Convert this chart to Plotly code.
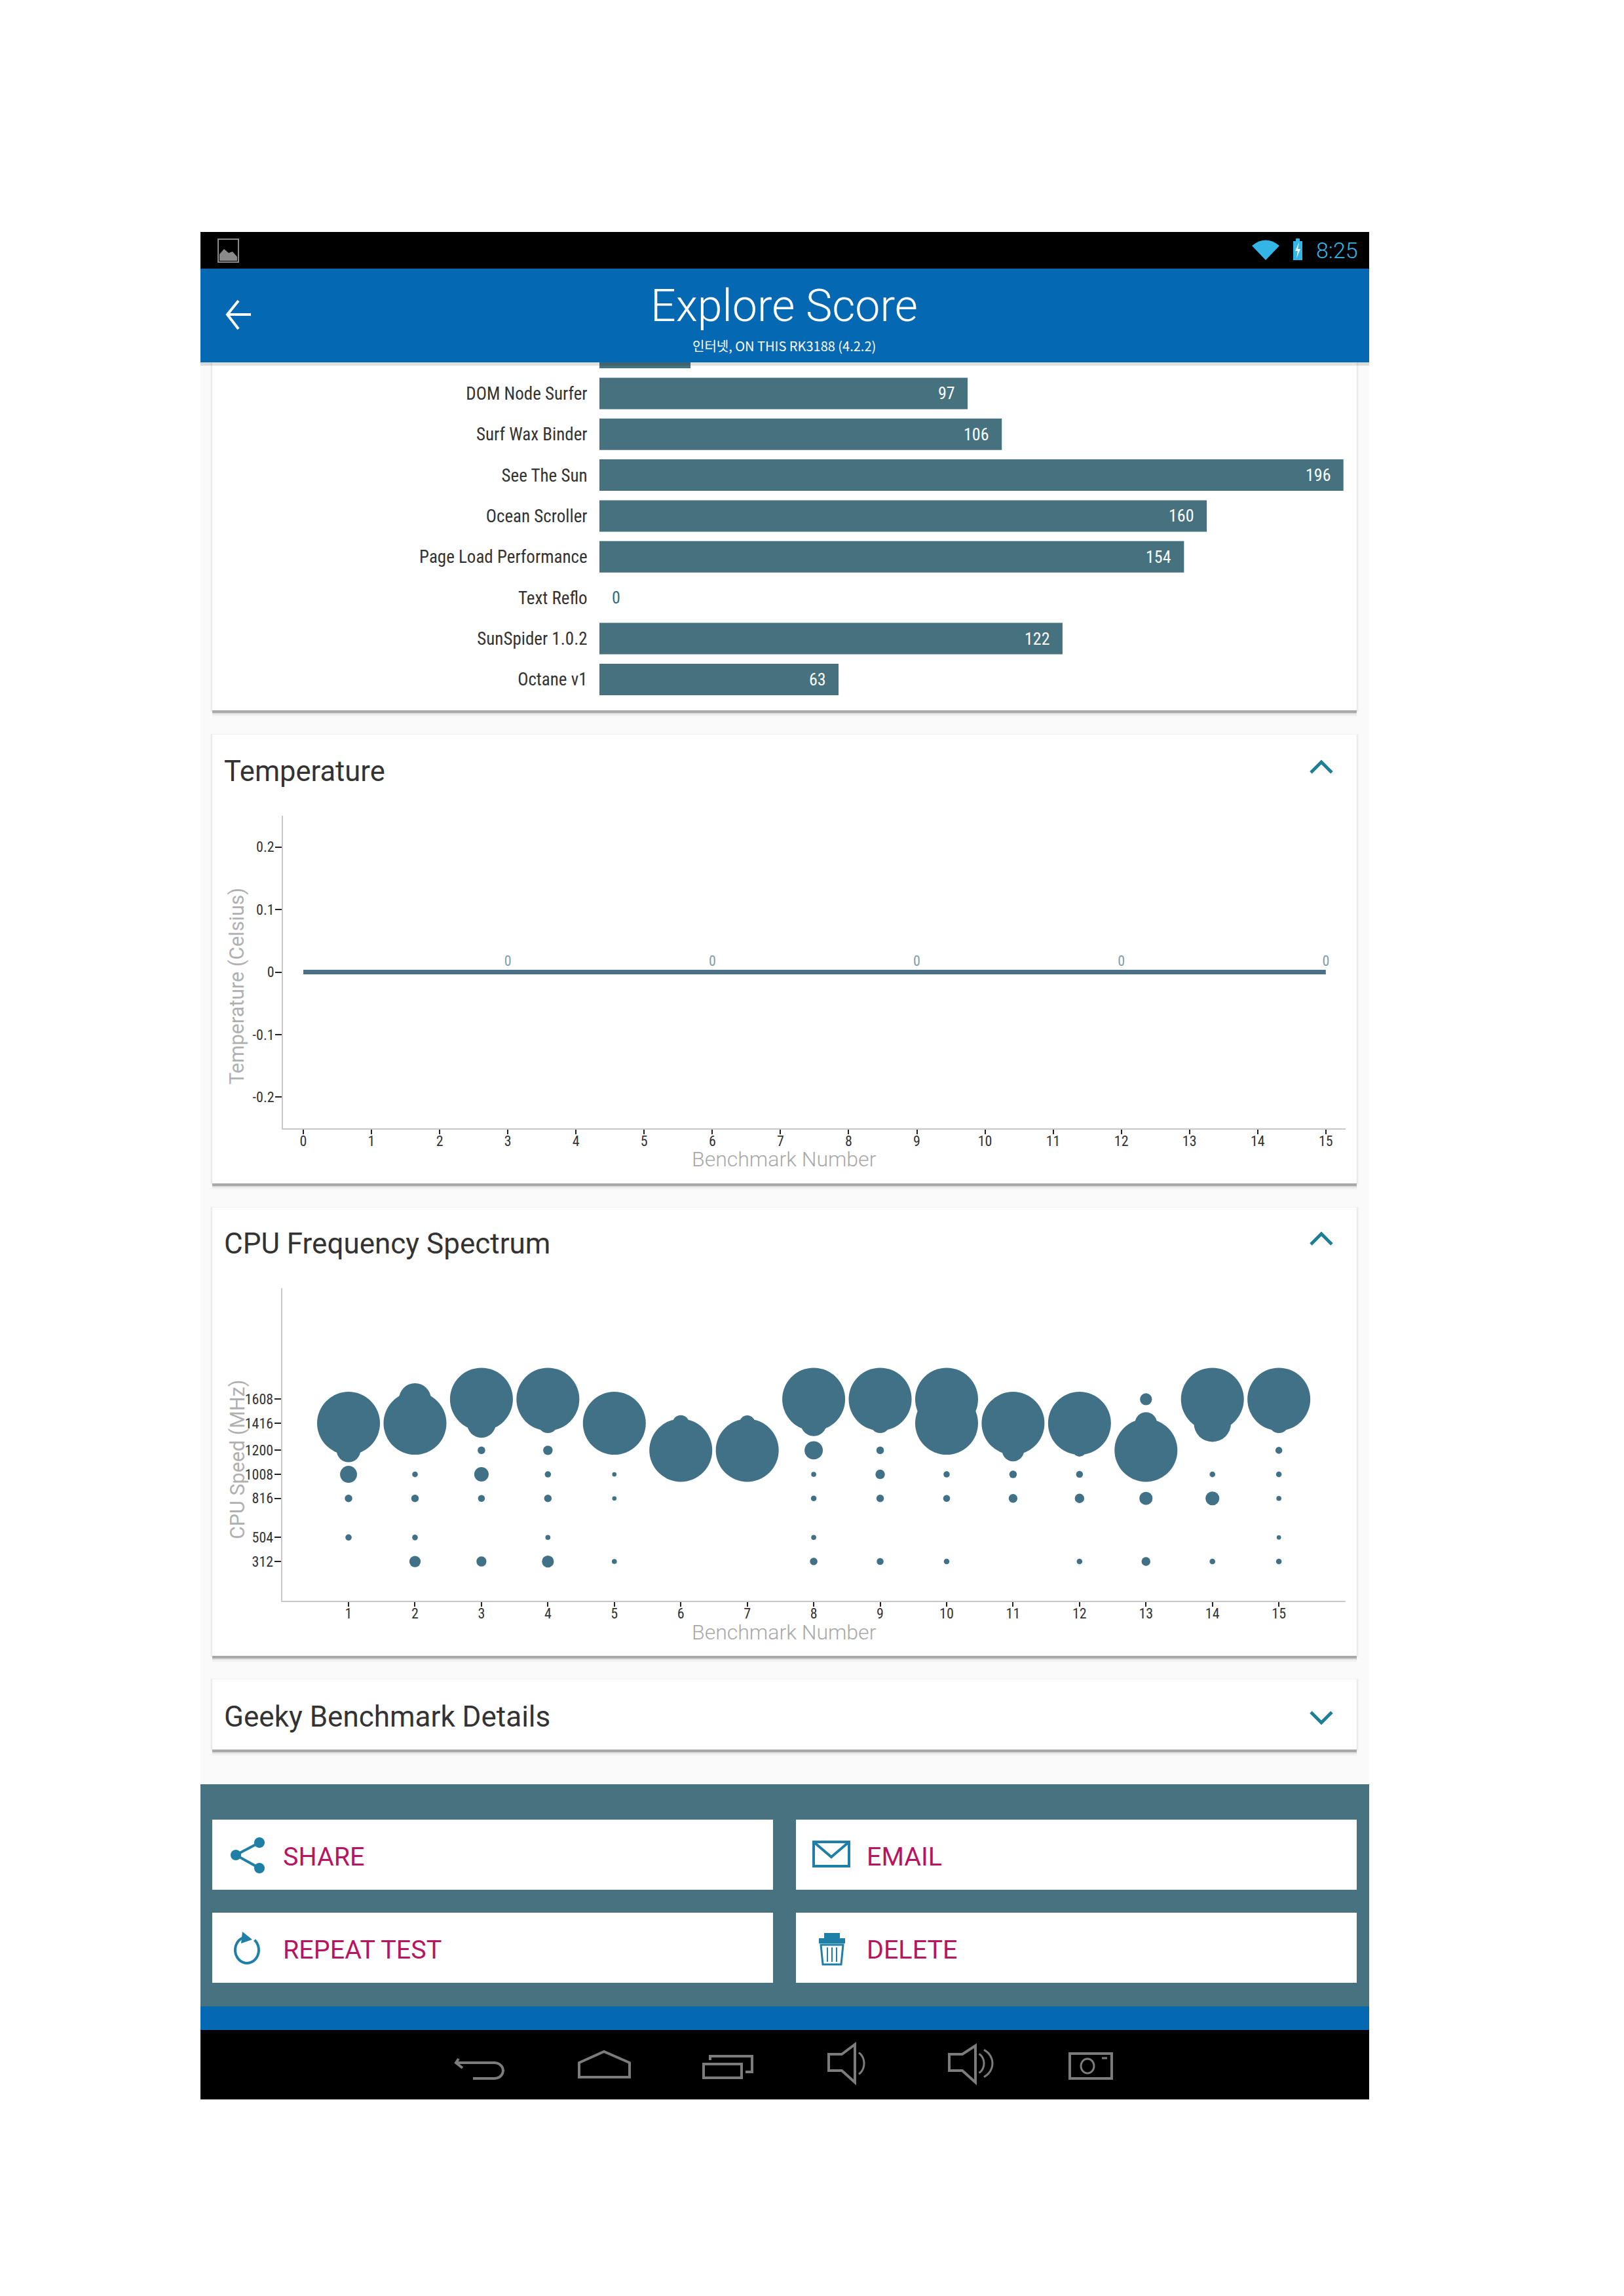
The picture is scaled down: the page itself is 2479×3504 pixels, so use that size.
import math
import plotly.graph_objects as go

W, H = 2479, 3504

# ---------- data ----------
score_names = [" ", "DOM Node Surfer", "Surf Wax Binder", "See The Sun", "Ocean Scroller",
               "Page Load Performance", "Text Reflo", "SunSpider 1.0.2", "Octane v1"]
score_values = [24, 97, 106, 196, 160, 154, 0, 122, 63]

temp_bench = [0, 1, 2, 3, 4, 5, 6, 7, 8, 9, 10, 11, 12, 13, 14, 15]
temp_values = [0, 0, 0, 0, 0, 0, 0, 0, 0, 0, 0, 0, 0, 0, 0, 0]
temp_labels = ["", "", "", "0", "", "", "0", "", "", "0", "", "", "0", "", "", "0"]
temp_ticks = [-0.2, -0.1, 0, 0.1, 0.2]

cpu_bench = [1, 2, 3, 4, 5, 6, 7, 8, 9, 10, 11, 12, 13, 14, 15]
cpu_freqs = [1608, 1416, 1200, 1008, 816, 504, 312]
# relative residency at each frequency, per benchmark (100 = largest bubble)
f1608 = [None, 51, 100, 100, None, None, None, 100, 100, 100, None, None, 19, 100, 100]
f1416 = [100, 100, 46, 31, 100, 26, 25, 41, 31, 100, 100, 100, 35, 59, 31]
f1200 = [38, None, 12, 15, None, 100, 100, 29, 12, None, 35, 20, 100, None, 11]
f1008 = [27, 9, 23, 10, 7, None, None, 8, 15, 10, 12, 11, None, 9, 9]
f816 = [12, 12, 11, 12, 7, None, None, 9, 12, 11, 14, 15, 21, 22, 8]
f504 = [10, 9, None, 8, None, None, None, 8, None, None, None, None, None, None, 7]
f312 = [None, 18, 16, 19, 8, None, None, 12, 11, 9, None, 9, 14, 9, 9]

# ---------- style ----------
BAR = "#46727f"
BUBBLE = "#407186"
LINE = "#4a7088"
HEADER = "#0568b2"
ICON = "#1f7fa6"
MAGENTA = "#b8145f"
NARROW = "Liberation Sans Narrow, Roboto Condensed, Roboto"
ROBOTO = "Roboto"
BUBBLE_PX_PER_UNIT = 0.96


def X(x):
    return x / W


def Y(y):
    return 1 - y / H


def pt(x, y):
    return f"{X(x):.5f},{Y(y):.5f}"


shapes = []
annotations = []


def rect(x0, y0, x1, y1, fill, layer="below", line=None, lw=0):
    shapes.append(dict(type="rect", xref="paper", yref="paper", x0=X(x0), x1=X(x1),
                       y0=Y(y1), y1=Y(y0), fillcolor=fill, layer=layer,
                       line=dict(width=lw, color=line or "rgba(0,0,0,0)")))


def poly(points, color, width=3, fill=None, close=False, layer="above"):
    d = "M" + " L".join(pt(a, b) for a, b in points) + (" Z" if close else "")
    shapes.append(dict(type="path", xref="paper", yref="paper", path=d, layer=layer,
                       fillcolor=fill or "rgba(0,0,0,0)",
                       line=dict(width=width, color=color if width else "rgba(0,0,0,0)")))


def arc(cx, cy, rx, ry, a0, a1, n=28):
    return [(cx + rx * math.cos(math.radians(a0 + (a1 - a0) * i / n)),
             cy + ry * math.sin(math.radians(a0 + (a1 - a0) * i / n))) for i in range(n + 1)]


def text(x, y, s, size, color, anchor="left", family=ROBOTO, weight=400, angle=0):
    annotations.append(dict(xref="paper", yref="paper", x=X(x), y=Y(y), text=s, showarrow=False,
                            xanchor=anchor, yanchor="middle", textangle=angle,
                            font=dict(size=size, color=color, family=family, weight=weight)))


def card(x0, y0, x1, y1):
    rect(x0 - 3, y0 - 1, x1 + 3, y1 + 2, "#f1f1f1")
    rect(x0 - 1, y0, x1 + 1, y1 + 1, "#e6e6e6")
    rect(x0, y1, x1, y1 + 9, "#f1f1f1")
    rect(x0, y1, x1, y1 + 6, "#dcdcdc")
    rect(x0, y1, x1, y1 + 4, "#a9a9a9")
    rect(x0, y0, x1, y1, "#ffffff")


# ---------- screen furniture ----------
rect(306, 354, 2090, 3204, "#fafafa")
card(324, 540, 2071, 1084)
card(324, 1121, 2071, 1806)
card(324, 1843, 2071, 2527)
card(324, 2563, 2071, 2670)
rect(306, 2723, 2090, 3062, "#46737f")
rect(324, 2777, 1180, 2884, "#ffffff")
rect(1215, 2777, 2071, 2884, "#ffffff")
rect(324, 2919, 1180, 3026, "#ffffff")
rect(1215, 2919, 2071, 3026, "#ffffff")
rect(306, 3062, 2090, 3098, HEADER)
rect(306, 3098, 2090, 3204, "#000000")
# header sits above the clipped bar
rect(306, 553, 2090, 558, "rgba(0,0,0,0.12)", layer="above")
rect(306, 354, 2090, 410, "#000000", layer="above")
rect(306, 410, 2090, 553, HEADER, layer="above")

# status bar
poly([(333, 365), (364, 365), (364, 400), (333, 400)], "#8a8a8a", 2, close=True)
poly([(335, 398), (335, 388), (342, 380), (349, 386), (355, 384), (362, 392), (362, 398)],
     "#8a8a8a", 0, fill="#8a8a8a", close=True)
shapes.append(dict(type="path", xref="paper", yref="paper", layer="above", fillcolor="#33b5e5",
                   line=dict(width=0, color="rgba(0,0,0,0)"),
                   path=f"M{pt(1911, 375)} Q{pt(1932, 358)} {pt(1953, 375)} L{pt(1932, 397)} Z"))
poly([(1974, 368), (1978, 368), (1978, 364), (1984, 364), (1984, 368), (1988, 368), (1988, 397), (1974, 397)],
     "#33b5e5", 0, fill="#33b5e5", close=True)
poly([(1983, 370), (1977, 383), (1981, 383), (1979, 394), (1985, 380), (1981, 380)],
     "#ffffff", 0, fill="#ffffff", close=True)
text(2041, 382, "8:25", 34, "#33b5e5", "center", weight=300)

# header
poly([(383, 480), (347, 480)], "#ffffff", 4)
poly([(364, 459), (347, 480), (364, 502)], "#ffffff", 4)
text(1197, 467, "Explore Score", 68, "#ffffff", "center", weight=300)
text(1197, 528, "인터넷, ON THIS RK3188 (4.2.2)", 20, "#ffffff", "center", family="Noto Sans CJK KR")

# card titles and chevrons
text(340, 1177, "Temperature", 43.5, "#333333")
text(340, 1898, "CPU Frequency Spectrum", 44, "#333333")
text(340, 2620, "Geeky Benchmark Details", 44, "#333333")
poly([(2001, 1179), (2017, 1163), (2033, 1179)], "#1f7f96", 5)
poly([(2001, 1899), (2017, 1883), (2033, 1899)], "#1f7f96", 5)
poly([(2001, 2613), (2017, 2629), (2033, 2613)], "#1f7f96", 5)

# axis titles
text(362, 1505, "Temperature (Celsius)", 30.5, "#b0b0b0", "center", angle=-90)
text(363, 2228, "CPU Speed (MHz)", 30.5, "#b0b0b0", "center", angle=-90)
text(1197, 1769, "Benchmark Number", 32, "#a8a8a8", "center", weight=300)
text(1197, 2491, "Benchmark Number", 32, "#a8a8a8", "center", weight=300)

# buttons
text(430, 2833, "SHARE", 39.5, MAGENTA)
text(1321, 2833, "EMAIL", 39.5, MAGENTA)
text(430, 2975, "REPEAT TEST", 39.5, MAGENTA)
text(1321, 2975, "DELETE", 39.5, MAGENTA)

# share icon
poly([(396, 2812), (360, 2831), (396, 2851)], ICON, 4)
for cx, cy in [(396, 2812), (360, 2831), (396, 2851)]:
    poly(arc(cx, cy, 8, 8, 0, 360), ICON, 0, fill=ICON, close=True)
# mail icon
poly([(1242, 2811), (1296, 2811), (1296, 2848), (1242, 2848)], ICON, 4, close=True)
poly([(1242, 2811), (1269, 2834), (1296, 2811)], ICON, 4)
# repeat icon
poly(arc(377, 2976, 18, 20, -50, 250), ICON, 4)
poly([(370, 2948), (385, 2960), (368, 2966)], ICON, 0, fill=ICON, close=True)
# trash icon
poly([(1258, 2950), (1282, 2950), (1282, 2958), (1290, 2958), (1290, 2966), (1250, 2966), (1250, 2958), (1258, 2958)],
     ICON, 0, fill=ICON, close=True)
poly([(1253, 2968), (1287, 2968), (1284, 2998), (1256, 2998)], ICON, 3, close=True)
for xx in (1263, 1270, 1277):
    poly([(xx, 2972), (xx, 2994)], ICON, 2)

# android nav bar
NAV = "#7c7c7c"
poly([(700, 3142), (696, 3148), (706, 3156)], NAV, 4)
poly([(698, 3148), (755, 3148)] + arc(755, 3160, 13, 12, -90, 90, 10) + [(722, 3172)], NAV, 4)
poly([(884, 3170), (884, 3148), (922, 3131), (961, 3148), (961, 3170)], NAV, 4, close=True)
poly([(1074, 3150), (1132, 3150), (1132, 3171), (1074, 3171)], NAV, 4, close=True)
poly([(1084, 3144), (1084, 3138), (1148, 3138), (1148, 3162), (1138, 3162)], NAV, 4)
poly([(1265, 3135), (1285, 3135), (1305, 3120), (1305, 3178), (1285, 3160), (1265, 3160)], NAV, 4, close=True)
poly(arc(1305, 3149, 14, 18, -65, 65, 12), NAV, 3)
poly([(1449, 3135), (1469, 3135), (1489, 3122), (1489, 3178), (1469, 3160), (1449, 3160)], NAV, 4, close=True)
poly(arc(1489, 3149, 13, 16, -65, 65, 12), NAV, 3)
poly(arc(1489, 3149, 26, 24, -60, 60, 12), NAV, 3)
poly([(1633, 3134), (1697, 3134), (1697, 3172), (1633, 3172)], NAV, 4, close=True)
poly(arc(1660, 3153, 10, 11, 0, 360), NAV, 3, close=True)
poly([(1682, 3141), (1690, 3141)], NAV, 3)

# ---------- charts ----------
fig = go.Figure()

fig.add_trace(go.Bar(x=score_values, y=score_names, orientation="h", marker=dict(color=BAR, line=dict(width=0)),
                     xaxis="x", yaxis="y", hoverinfo="skip", showlegend=False))
for name, val in zip(score_names[1:], score_values[1:]):
    annotations.append(dict(xref="x", yref="y", x=val, y=name, text=str(val), showarrow=False,
                            xanchor="right" if val else "left", xshift=-17 if val else 17,
                            font=dict(size=26, family=NARROW, color="#ffffff" if val else "#2a6f8a")))

fig.add_trace(go.Scatter(x=temp_bench, y=temp_values, text=temp_labels, mode="lines+markers+text",
                         textposition="top center", line=dict(color=LINE, width=7),
                         marker=dict(size=5, opacity=0),
                         textfont=dict(size=22, family=NARROW, color="#7f9ea6"),
                         xaxis="x2", yaxis="y2", hoverinfo="skip", showlegend=False))

for freq, row in zip(cpu_freqs, [f1608, f1416, f1200, f1008, f816, f504, f312]):
    xs = [b for b, v in zip(cpu_bench, row) if v is not None]
    vs = [v for v in row if v is not None]
    fig.add_trace(go.Scatter(x=xs, y=[freq] * len(xs), mode="markers",
                             marker=dict(color=BUBBLE, size=[v * BUBBLE_PX_PER_UNIT for v in vs],
                                         sizemode="diameter", opacity=1, line=dict(width=0)),
                             xaxis="x3", yaxis="y3", hoverinfo="skip", showlegend=False))

tick_font = dict(size=22, family=NARROW, color="#333333")
x_ticks = dict(tickmode="array", ticks="outside", ticklen=7, tickcolor="#222222", tickwidth=2,
               ticklabelstandoff=-8, showline=True, linecolor="#c8c8c8", linewidth=2,
               showgrid=False, zeroline=False, tickfont=tick_font)
y_ticks = dict(tickmode="array", ticks="outside", ticklen=10, tickcolor="#222222", tickwidth=2,
               ticklabelstandoff=-3, showline=True, linecolor="#c8c8c8", linewidth=2,
               showgrid=False, zeroline=False, tickfont=tick_font)

fig.update_layout(
    width=W, height=H, autosize=False, margin=dict(l=0, r=0, t=0, b=0, pad=0),
    paper_bgcolor="#ffffff", plot_bgcolor="rgba(0,0,0,0)", bargap=0.23, showlegend=False,
    shapes=shapes, annotations=annotations,
    xaxis=dict(domain=[X(915), X(2071)], range=[0, 199.5], visible=False, anchor="y"),
    yaxis=dict(domain=[Y(1084), Y(553)], range=[8.755, 0.24], type="category", anchor="x",
               ticks="outside", ticklen=12, tickcolor="rgba(0,0,0,0)", showline=False, showgrid=False,
               zeroline=False, tickfont=dict(size=27, family=NARROW, color="#333333")),
    xaxis2=dict(domain=[X(432), X(2054)], range=[-0.298, 15.29], anchor="y2",
                tickvals=temp_bench, ticktext=[str(b) for b in temp_bench], **x_ticks),
    yaxis2=dict(domain=[Y(1722), Y(1245)], range=[-0.25, 0.25], anchor="x2",
                tickvals=temp_ticks, ticktext=["-0.2", "-0.1", "0", "0.1", "0.2"], **y_ticks),
    xaxis3=dict(domain=[X(430.6), X(2053.6)], range=[0, 16], anchor="y3",
                tickvals=cpu_bench, ticktext=[str(b) for b in cpu_bench], **x_ticks),
    yaxis3=dict(domain=[Y(2443), Y(1966)], range=[-2, 2495], anchor="x3",
                tickvals=cpu_freqs, ticktext=[str(f) for f in cpu_freqs], **y_ticks),
)

fig.write_html("out.html", config={"displayModeBar": False},
               post_script="document.body.style.margin='0';document.documentElement.style.overflow='hidden';")
